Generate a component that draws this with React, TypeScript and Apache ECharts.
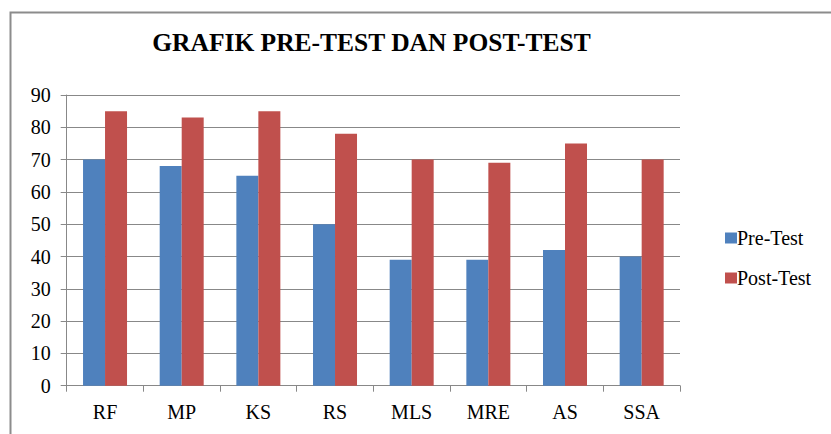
import React, { useEffect, useRef } from "react";
import * as echarts from "echarts";

const categories = ["RF", "MP", "KS", "RS", "MLS", "MRE", "AS", "SSA"];
const preTest = [70, 68, 65, 50, 39, 39, 42, 40];
const postTest = [85, 83, 85, 78, 70, 69, 75, 70];
const seriesNames = ["Pre-Test", "Post-Test"];
const titleText = "GRAFIK PRE-TEST DAN POST-TEST";

const FONT = "Times New Roman, Liberation Serif, serif";

export default function App() {
  const ref = useRef<HTMLDivElement>(null);

  useEffect(() => {
    if (!ref.current) return;
    const chart = echarts.init(ref.current, null, { renderer: "svg" });
    chart.setOption({
      animation: false,
      backgroundColor: "#ffffff",
      textStyle: { fontFamily: FONT },
      graphic: [
        {
          type: "rect",
          shape: { x: 10.5, y: 12.5, width: 1000, height: 600 },
          style: { fill: "none", stroke: "#8c8c8c", lineWidth: 2 },
          silent: true,
        },
        {
          type: "text",
          x: 371.5,
          y: 42,
          style: {
            text: titleText,
            fontFamily: FONT,
            fontSize: 25.5,
            fontWeight: "bold",
            fill: "#000",
            align: "center",
            verticalAlign: "middle",
          },
        },
      ],
      legend: {
        orient: "vertical",
        left: 720,
        top: 223,
        itemWidth: 12,
        itemHeight: 11,
        itemGap: 20,
        icon: "rect",
        data: seriesNames,
        textStyle: { fontFamily: FONT, fontSize: 20, color: "#000", padding: [0, 0, 0, -5] },
      },
      grid: { left: 66.7, right: 151, top: 95, bottom: 48.3, containLabel: false },
      xAxis: {
        type: "category",
        data: categories,
        boundaryGap: true,
        axisLine: { show: true, lineStyle: { color: "#888888", width: 1 } },
        axisTick: { show: true, length: 6, lineStyle: { color: "#888888" }, alignWithLabel: false },
        axisLabel: { fontFamily: FONT, fontSize: 20, color: "#000", margin: 16 },
        splitLine: { show: false },
      },
      yAxis: {
        type: "value",
        min: 0,
        max: 90,
        interval: 10,
        axisLine: { show: true, lineStyle: { color: "#888888", width: 1 } },
        axisTick: { show: true, length: 6, lineStyle: { color: "#888888" } },
        axisLabel: { fontFamily: FONT, fontSize: 20, color: "#000", margin: 16 },
        splitLine: { show: true, lineStyle: { color: "#888888", width: 1 } },
      },
      series: [
        {
          name: seriesNames[0],
          type: "bar",
          data: preTest,
          barWidth: 22,
          barGap: "0%",
          itemStyle: { color: "#4F81BD" },
        },
        {
          name: seriesNames[1],
          type: "bar",
          data: postTest,
          barWidth: 22,
          barGap: "0%",
          itemStyle: { color: "#C0504D" },
        },
      ],
    });
    return () => chart.dispose();
  }, []);

  return (
    <div
      ref={ref}
      style={{ position: "fixed", left: 0, top: 0, width: 831, height: 434 }}
    />
  );
}
